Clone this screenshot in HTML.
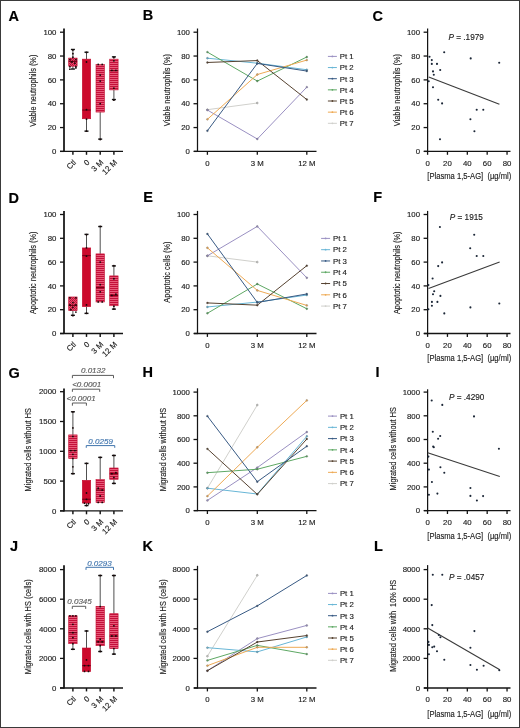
<!DOCTYPE html>
<html><head><meta charset="utf-8"><style>
html,body{margin:0;padding:0;background:#fff;}
body{width:520px;height:728px;overflow:hidden;}
svg{display:block;font-family:"Liberation Sans", sans-serif;will-change:transform;} text{stroke-width:0.15;}
</style></head><body>
<svg width="520" height="728" viewBox="0 0 520 728">
<defs>
<pattern id="stripes" patternUnits="userSpaceOnUse" width="4" height="2">
<rect width="4" height="2" fill="#e85c7a"/>
<rect width="4" height="1" fill="#c4103a"/>
</pattern>
<pattern id="checker" patternUnits="userSpaceOnUse" width="2" height="2">
<rect width="2" height="2" fill="#e4506e"/>
<rect width="1" height="1" fill="#b80c34"/>
<rect x="1" y="1" width="1" height="1" fill="#c81840"/>
</pattern>
</defs>
<rect width="520" height="728" fill="#fff"/>
<rect x="0.5" y="0.5" width="519" height="727" fill="none" stroke="#3a3a3a" stroke-width="1"/>
<text x="8.6" y="21" font-size="14.5" text-anchor="start" fill="#000" font-weight="bold" font-style="normal" stroke="#000" stroke-width="0.35">A</text>
<text x="142.7" y="20.2" font-size="14.5" text-anchor="start" fill="#000" font-weight="bold" font-style="normal" stroke="#000" stroke-width="0.35">B</text>
<text x="372.6" y="20.8" font-size="14.5" text-anchor="start" fill="#000" font-weight="bold" font-style="normal" stroke="#000" stroke-width="0.35">C</text>
<text x="8.6" y="203.2" font-size="14.5" text-anchor="start" fill="#000" font-weight="bold" font-style="normal" stroke="#000" stroke-width="0.35">D</text>
<text x="143.2" y="202.2" font-size="14.5" text-anchor="start" fill="#000" font-weight="bold" font-style="normal" stroke="#000" stroke-width="0.35">E</text>
<text x="373.2" y="202.2" font-size="14.5" text-anchor="start" fill="#000" font-weight="bold" font-style="normal" stroke="#000" stroke-width="0.35">F</text>
<text x="8.6" y="377.5" font-size="14.5" text-anchor="start" fill="#000" font-weight="bold" font-style="normal" stroke="#000" stroke-width="0.35">G</text>
<text x="142.5" y="376.8" font-size="14.5" text-anchor="start" fill="#000" font-weight="bold" font-style="normal" stroke="#000" stroke-width="0.35">H</text>
<text x="375.4" y="376.8" font-size="14.5" text-anchor="start" fill="#000" font-weight="bold" font-style="normal" stroke="#000" stroke-width="0.35">I</text>
<text x="9.9" y="551.2" font-size="14.5" text-anchor="start" fill="#000" font-weight="bold" font-style="normal" stroke="#000" stroke-width="0.35">J</text>
<text x="142.5" y="551.2" font-size="14.5" text-anchor="start" fill="#000" font-weight="bold" font-style="normal" stroke="#000" stroke-width="0.35">K</text>
<text x="374" y="551.1" font-size="14.5" text-anchor="start" fill="#000" font-weight="bold" font-style="normal" stroke="#000" stroke-width="0.35">L</text>
<line x1="64" y1="28.5" x2="64" y2="152" stroke="#141414" stroke-width="1.75" />
<line x1="60" y1="151.4" x2="64" y2="151.4" stroke="#141414" stroke-width="1.3" />
<text x="56.4" y="154.15" font-size="7.8" text-anchor="end" fill="#222222" font-weight="normal" font-style="normal" stroke="#222222" stroke-width="0.24" >0</text>
<line x1="60" y1="127.56" x2="64" y2="127.56" stroke="#141414" stroke-width="1.3" />
<text x="56.4" y="130.31" font-size="7.8" text-anchor="end" fill="#222222" font-weight="normal" font-style="normal" stroke="#222222" stroke-width="0.24" >20</text>
<line x1="60" y1="103.72" x2="64" y2="103.72" stroke="#141414" stroke-width="1.3" />
<text x="56.4" y="106.47" font-size="7.8" text-anchor="end" fill="#222222" font-weight="normal" font-style="normal" stroke="#222222" stroke-width="0.24" >40</text>
<line x1="60" y1="79.88" x2="64" y2="79.88" stroke="#141414" stroke-width="1.3" />
<text x="56.4" y="82.63" font-size="7.8" text-anchor="end" fill="#222222" font-weight="normal" font-style="normal" stroke="#222222" stroke-width="0.24" >60</text>
<line x1="60" y1="56.04" x2="64" y2="56.04" stroke="#141414" stroke-width="1.3" />
<text x="56.4" y="58.79" font-size="7.8" text-anchor="end" fill="#222222" font-weight="normal" font-style="normal" stroke="#222222" stroke-width="0.24" >80</text>
<line x1="60" y1="32.2" x2="64" y2="32.2" stroke="#141414" stroke-width="1.3" />
<text x="56.4" y="34.95" font-size="7.8" text-anchor="end" fill="#222222" font-weight="normal" font-style="normal" stroke="#222222" stroke-width="0.24" >100</text>
<line x1="60" y1="151.4" x2="123" y2="151.4" stroke="#141414" stroke-width="1.3" />
<line x1="72.9" y1="151.4" x2="72.9" y2="154.8" stroke="#141414" stroke-width="1.45" />
<line x1="86.5" y1="151.4" x2="86.5" y2="154.8" stroke="#141414" stroke-width="1.45" />
<line x1="100.2" y1="151.4" x2="100.2" y2="154.8" stroke="#141414" stroke-width="1.45" />
<line x1="113.9" y1="151.4" x2="113.9" y2="154.8" stroke="#141414" stroke-width="1.45" />
<text x="0" y="0" font-size="7.8" text-anchor="end" fill="#222222" stroke="#222222" stroke-width="0.24" transform="translate(76.5,162.9) rotate(-45)">Ctl</text>
<text x="0" y="0" font-size="7.8" text-anchor="end" fill="#222222" stroke="#222222" stroke-width="0.24" transform="translate(90.1,162.9) rotate(-45)">0</text>
<text x="0" y="0" font-size="7.8" text-anchor="end" fill="#222222" stroke="#222222" stroke-width="0.24" transform="translate(103.8,162.9) rotate(-45)">3 M</text>
<text x="0" y="0" font-size="7.8" text-anchor="end" fill="#222222" stroke="#222222" stroke-width="0.24" transform="translate(117.5,162.9) rotate(-45)">12 M</text>
<g transform="translate(32.6,90.7) rotate(-90) scale(0.78,1)"><text x="0" y="3.14" font-size="9.5" text-anchor="middle" fill="#222222" stroke="#222222" stroke-width="0.42" xml:space="preserve">Viable neutrophils (%)</text></g>
<line x1="72.9" y1="49.48" x2="72.9" y2="58.07" stroke="#505050" stroke-width="1" />
<line x1="70.9" y1="49.48" x2="74.9" y2="49.48" stroke="#111" stroke-width="1.4" />
<line x1="72.9" y1="66.17" x2="72.9" y2="69.03" stroke="#505050" stroke-width="1" />
<line x1="70.9" y1="69.03" x2="74.9" y2="69.03" stroke="#111" stroke-width="1.4" />
<rect x="68.7" y="58.07" width="8.4" height="8.11" fill="url(#checker)" stroke="#c20a2e" stroke-width="0.6"/>
<line x1="68.7" y1="61.4" x2="77.1" y2="61.4" stroke="#7a0018" stroke-width="1.2" />
<circle cx="72.9" cy="50.08" r="0.9" fill="#1a0a0a"/>
<circle cx="72.9" cy="53.66" r="0.9" fill="#1a0a0a"/>
<circle cx="72.9" cy="57.23" r="0.9" fill="#1a0a0a"/>
<circle cx="69.9" cy="59.62" r="0.9" fill="#1a0a0a"/>
<circle cx="75.9" cy="59.62" r="0.9" fill="#1a0a0a"/>
<circle cx="71.9" cy="62" r="0.9" fill="#1a0a0a"/>
<circle cx="74.9" cy="63.19" r="0.9" fill="#1a0a0a"/>
<circle cx="69.9" cy="66.77" r="0.9" fill="#1a0a0a"/>
<circle cx="75.9" cy="66.77" r="0.9" fill="#1a0a0a"/>
<circle cx="69.9" cy="69.15" r="0.9" fill="#1a0a0a"/>
<circle cx="75.9" cy="67.96" r="0.9" fill="#1a0a0a"/>
<line x1="86.5" y1="52.23" x2="86.5" y2="59.14" stroke="#505050" stroke-width="1" />
<line x1="84.5" y1="52.23" x2="88.5" y2="52.23" stroke="#111" stroke-width="1.4" />
<line x1="86.5" y1="118.74" x2="86.5" y2="131.14" stroke="#505050" stroke-width="1" />
<line x1="84.5" y1="131.14" x2="88.5" y2="131.14" stroke="#111" stroke-width="1.4" />
<rect x="82.3" y="59.14" width="8.4" height="59.6" fill="#cc0a2c" stroke="#c20a2e" stroke-width="0.6"/>
<line x1="82.3" y1="110.04" x2="90.7" y2="110.04" stroke="#7a0018" stroke-width="1.2" />
<circle cx="86.5" cy="52.46" r="0.9" fill="#1a0a0a"/>
<circle cx="86.5" cy="62" r="0.9" fill="#1a0a0a"/>
<circle cx="86.5" cy="109.68" r="0.9" fill="#1a0a0a"/>
<circle cx="86.5" cy="119.22" r="0.9" fill="#1a0a0a"/>
<circle cx="86.5" cy="131.14" r="0.9" fill="#1a0a0a"/>
<line x1="100.2" y1="112.06" x2="100.2" y2="139.12" stroke="#505050" stroke-width="1" />
<line x1="98.2" y1="139.12" x2="102.2" y2="139.12" stroke="#111" stroke-width="1.4" />
<rect x="96" y="64.62" width="8.4" height="47.44" fill="url(#stripes)" stroke="#c20a2e" stroke-width="0.6"/>
<circle cx="98.2" cy="64.38" r="0.9" fill="#1a0a0a"/>
<circle cx="102.2" cy="64.38" r="0.9" fill="#1a0a0a"/>
<circle cx="100.2" cy="75.11" r="0.9" fill="#1a0a0a"/>
<circle cx="100.2" cy="81.07" r="0.9" fill="#1a0a0a"/>
<circle cx="100.2" cy="103.72" r="0.9" fill="#1a0a0a"/>
<circle cx="100.2" cy="139.48" r="0.9" fill="#1a0a0a"/>
<line x1="113.9" y1="56.87" x2="113.9" y2="59.14" stroke="#505050" stroke-width="1" />
<line x1="111.9" y1="56.87" x2="115.9" y2="56.87" stroke="#111" stroke-width="1.4" />
<line x1="113.9" y1="89.89" x2="113.9" y2="99.55" stroke="#505050" stroke-width="1" />
<line x1="111.9" y1="99.55" x2="115.9" y2="99.55" stroke="#111" stroke-width="1.4" />
<rect x="109.7" y="59.14" width="8.4" height="30.75" fill="url(#stripes)" stroke="#c20a2e" stroke-width="0.6"/>
<line x1="109.7" y1="70.7" x2="118.1" y2="70.7" stroke="#7a0018" stroke-width="1.2" />
<circle cx="113.9" cy="57.23" r="0.9" fill="#1a0a0a"/>
<circle cx="113.9" cy="60.81" r="0.9" fill="#1a0a0a"/>
<circle cx="111.9" cy="70.34" r="0.9" fill="#1a0a0a"/>
<circle cx="115.9" cy="70.34" r="0.9" fill="#1a0a0a"/>
<circle cx="113.9" cy="88.22" r="0.9" fill="#1a0a0a"/>
<circle cx="113.9" cy="100.14" r="0.9" fill="#1a0a0a"/>
<line x1="197.5" y1="28.5" x2="197.5" y2="152" stroke="#141414" stroke-width="1.25" />
<line x1="193.5" y1="151.4" x2="197.5" y2="151.4" stroke="#141414" stroke-width="1.3" />
<text x="189.9" y="154.15" font-size="7.8" text-anchor="end" fill="#222222" font-weight="normal" font-style="normal" stroke="#222222" stroke-width="0.24" >0</text>
<line x1="193.5" y1="127.56" x2="197.5" y2="127.56" stroke="#141414" stroke-width="1.3" />
<text x="189.9" y="130.31" font-size="7.8" text-anchor="end" fill="#222222" font-weight="normal" font-style="normal" stroke="#222222" stroke-width="0.24" >20</text>
<line x1="193.5" y1="103.72" x2="197.5" y2="103.72" stroke="#141414" stroke-width="1.3" />
<text x="189.9" y="106.47" font-size="7.8" text-anchor="end" fill="#222222" font-weight="normal" font-style="normal" stroke="#222222" stroke-width="0.24" >40</text>
<line x1="193.5" y1="79.88" x2="197.5" y2="79.88" stroke="#141414" stroke-width="1.3" />
<text x="189.9" y="82.63" font-size="7.8" text-anchor="end" fill="#222222" font-weight="normal" font-style="normal" stroke="#222222" stroke-width="0.24" >60</text>
<line x1="193.5" y1="56.04" x2="197.5" y2="56.04" stroke="#141414" stroke-width="1.3" />
<text x="189.9" y="58.79" font-size="7.8" text-anchor="end" fill="#222222" font-weight="normal" font-style="normal" stroke="#222222" stroke-width="0.24" >80</text>
<line x1="193.5" y1="32.2" x2="197.5" y2="32.2" stroke="#141414" stroke-width="1.3" />
<text x="189.9" y="34.95" font-size="7.8" text-anchor="end" fill="#222222" font-weight="normal" font-style="normal" stroke="#222222" stroke-width="0.24" >100</text>
<line x1="194" y1="151.4" x2="316.5" y2="151.4" stroke="#141414" stroke-width="1.3" />
<line x1="207.4" y1="151.4" x2="207.4" y2="154.8" stroke="#141414" stroke-width="1.3" />
<line x1="257.3" y1="151.4" x2="257.3" y2="154.8" stroke="#141414" stroke-width="1.3" />
<line x1="306.8" y1="151.4" x2="306.8" y2="154.8" stroke="#141414" stroke-width="1.3" />
<text x="207.4" y="165.7" font-size="7.8" text-anchor="middle" fill="#222222" font-weight="normal" font-style="normal" stroke="#222222" stroke-width="0.24" >0</text>
<text x="257.3" y="165.7" font-size="7.8" text-anchor="middle" fill="#222222" font-weight="normal" font-style="normal" stroke="#222222" stroke-width="0.24" >3 M</text>
<text x="306.8" y="165.7" font-size="7.8" text-anchor="middle" fill="#222222" font-weight="normal" font-style="normal" stroke="#222222" stroke-width="0.24" >12 M</text>
<g transform="translate(166.8,90.1) rotate(-90) scale(0.78,1)"><text x="0" y="3.14" font-size="9.5" text-anchor="middle" fill="#222222" stroke="#222222" stroke-width="0.42" xml:space="preserve">Viable neutrophils (%)</text></g>
<path d="M207.4,109.68 L257.3,103" fill="none" stroke="#d0d0cc" stroke-width="1"/>
<circle cx="207.4" cy="109.68" r="0.95" fill="#d0d0cc" stroke="#333" stroke-width="0.25"/>
<circle cx="257.3" cy="103" r="0.95" fill="#d0d0cc" stroke="#333" stroke-width="0.25"/>
<path d="M207.4,110.04 L257.3,139 L306.8,87.15" fill="none" stroke="#9a90c2" stroke-width="1"/>
<circle cx="207.4" cy="110.04" r="0.95" fill="#9a90c2" stroke="#333" stroke-width="0.25"/>
<circle cx="257.3" cy="139" r="0.95" fill="#9a90c2" stroke="#333" stroke-width="0.25"/>
<circle cx="306.8" cy="87.15" r="0.95" fill="#9a90c2" stroke="#333" stroke-width="0.25"/>
<path d="M207.4,58.19 L257.3,63.19 L306.8,69.75" fill="none" stroke="#68b6d6" stroke-width="1"/>
<circle cx="207.4" cy="58.19" r="0.95" fill="#68b6d6" stroke="#333" stroke-width="0.25"/>
<circle cx="257.3" cy="63.19" r="0.95" fill="#68b6d6" stroke="#333" stroke-width="0.25"/>
<circle cx="306.8" cy="69.75" r="0.95" fill="#68b6d6" stroke="#333" stroke-width="0.25"/>
<path d="M207.4,52.11 L257.3,81.07 L306.8,56.99" fill="none" stroke="#5ea864" stroke-width="1"/>
<circle cx="207.4" cy="52.11" r="0.95" fill="#5ea864" stroke="#333" stroke-width="0.25"/>
<circle cx="257.3" cy="81.07" r="0.95" fill="#5ea864" stroke="#333" stroke-width="0.25"/>
<circle cx="306.8" cy="56.99" r="0.95" fill="#5ea864" stroke="#333" stroke-width="0.25"/>
<path d="M207.4,119.34 L257.3,74.52 L306.8,60.09" fill="none" stroke="#eeaa55" stroke-width="1"/>
<circle cx="207.4" cy="119.34" r="0.95" fill="#eeaa55" stroke="#333" stroke-width="0.25"/>
<circle cx="257.3" cy="74.52" r="0.95" fill="#eeaa55" stroke="#333" stroke-width="0.25"/>
<circle cx="306.8" cy="60.09" r="0.95" fill="#eeaa55" stroke="#333" stroke-width="0.25"/>
<path d="M207.4,62.48 L257.3,60.57 L306.8,99.55" fill="none" stroke="#564230" stroke-width="1"/>
<circle cx="207.4" cy="62.48" r="0.95" fill="#564230" stroke="#333" stroke-width="0.25"/>
<circle cx="257.3" cy="60.57" r="0.95" fill="#564230" stroke="#333" stroke-width="0.25"/>
<circle cx="306.8" cy="99.55" r="0.95" fill="#564230" stroke="#333" stroke-width="0.25"/>
<path d="M207.4,130.78 L257.3,63.43 L306.8,71.06" fill="none" stroke="#385a84" stroke-width="1"/>
<circle cx="207.4" cy="130.78" r="0.95" fill="#385a84" stroke="#333" stroke-width="0.25"/>
<circle cx="257.3" cy="63.43" r="0.95" fill="#385a84" stroke="#333" stroke-width="0.25"/>
<circle cx="306.8" cy="71.06" r="0.95" fill="#385a84" stroke="#333" stroke-width="0.25"/>
<line x1="327.9" y1="56.4" x2="336.9" y2="56.4" stroke="#9a90c2" stroke-width="1" />
<circle cx="332.4" cy="56.4" r="0.9" fill="#9a90c2"/>
<text x="339.8" y="59.2" font-size="7.8" text-anchor="start" fill="#222222" font-weight="normal" font-style="normal" stroke="#222222" stroke-width="0.24" >Pt 1</text>
<line x1="327.9" y1="67.55" x2="336.9" y2="67.55" stroke="#68b6d6" stroke-width="1" />
<circle cx="332.4" cy="67.55" r="0.9" fill="#68b6d6"/>
<text x="339.8" y="70.35" font-size="7.8" text-anchor="start" fill="#222222" font-weight="normal" font-style="normal" stroke="#222222" stroke-width="0.24" >Pt 2</text>
<line x1="327.9" y1="78.7" x2="336.9" y2="78.7" stroke="#385a84" stroke-width="1" />
<circle cx="332.4" cy="78.7" r="0.9" fill="#385a84"/>
<text x="339.8" y="81.5" font-size="7.8" text-anchor="start" fill="#222222" font-weight="normal" font-style="normal" stroke="#222222" stroke-width="0.24" >Pt 3</text>
<line x1="327.9" y1="89.85" x2="336.9" y2="89.85" stroke="#5ea864" stroke-width="1" />
<circle cx="332.4" cy="89.85" r="0.9" fill="#5ea864"/>
<text x="339.8" y="92.65" font-size="7.8" text-anchor="start" fill="#222222" font-weight="normal" font-style="normal" stroke="#222222" stroke-width="0.24" >Pt 4</text>
<line x1="327.9" y1="101" x2="336.9" y2="101" stroke="#564230" stroke-width="1" />
<circle cx="332.4" cy="101" r="0.9" fill="#564230"/>
<text x="339.8" y="103.8" font-size="7.8" text-anchor="start" fill="#222222" font-weight="normal" font-style="normal" stroke="#222222" stroke-width="0.24" >Pt 5</text>
<line x1="327.9" y1="112.15" x2="336.9" y2="112.15" stroke="#eeaa55" stroke-width="1" />
<circle cx="332.4" cy="112.15" r="0.9" fill="#eeaa55"/>
<text x="339.8" y="114.95" font-size="7.8" text-anchor="start" fill="#222222" font-weight="normal" font-style="normal" stroke="#222222" stroke-width="0.24" >Pt 6</text>
<line x1="327.9" y1="123.3" x2="336.9" y2="123.3" stroke="#d0d0cc" stroke-width="1" />
<circle cx="332.4" cy="123.3" r="0.9" fill="#d0d0cc"/>
<text x="339.8" y="126.1" font-size="7.8" text-anchor="start" fill="#222222" font-weight="normal" font-style="normal" stroke="#222222" stroke-width="0.24" >Pt 7</text>
<line x1="427.6" y1="28.5" x2="427.6" y2="152" stroke="#141414" stroke-width="1.25" />
<line x1="423.6" y1="151.4" x2="427.6" y2="151.4" stroke="#141414" stroke-width="1.3" />
<text x="420" y="154.15" font-size="7.8" text-anchor="end" fill="#222222" font-weight="normal" font-style="normal" stroke="#222222" stroke-width="0.24" >0</text>
<line x1="423.6" y1="127.56" x2="427.6" y2="127.56" stroke="#141414" stroke-width="1.3" />
<text x="420" y="130.31" font-size="7.8" text-anchor="end" fill="#222222" font-weight="normal" font-style="normal" stroke="#222222" stroke-width="0.24" >20</text>
<line x1="423.6" y1="103.72" x2="427.6" y2="103.72" stroke="#141414" stroke-width="1.3" />
<text x="420" y="106.47" font-size="7.8" text-anchor="end" fill="#222222" font-weight="normal" font-style="normal" stroke="#222222" stroke-width="0.24" >40</text>
<line x1="423.6" y1="79.88" x2="427.6" y2="79.88" stroke="#141414" stroke-width="1.3" />
<text x="420" y="82.63" font-size="7.8" text-anchor="end" fill="#222222" font-weight="normal" font-style="normal" stroke="#222222" stroke-width="0.24" >60</text>
<line x1="423.6" y1="56.04" x2="427.6" y2="56.04" stroke="#141414" stroke-width="1.3" />
<text x="420" y="58.79" font-size="7.8" text-anchor="end" fill="#222222" font-weight="normal" font-style="normal" stroke="#222222" stroke-width="0.24" >80</text>
<line x1="423.6" y1="32.2" x2="427.6" y2="32.2" stroke="#141414" stroke-width="1.3" />
<text x="420" y="34.95" font-size="7.8" text-anchor="end" fill="#222222" font-weight="normal" font-style="normal" stroke="#222222" stroke-width="0.24" >100</text>
<line x1="424" y1="151.4" x2="510.5" y2="151.4" stroke="#141414" stroke-width="1.3" />
<line x1="427.6" y1="151.4" x2="427.6" y2="154.8" stroke="#141414" stroke-width="1.3" />
<text x="427.6" y="165.7" font-size="7.8" text-anchor="middle" fill="#222222" font-weight="normal" font-style="normal" stroke="#222222" stroke-width="0.24" >0</text>
<line x1="447.46" y1="151.4" x2="447.46" y2="154.8" stroke="#141414" stroke-width="1.3" />
<text x="447.46" y="165.7" font-size="7.8" text-anchor="middle" fill="#222222" font-weight="normal" font-style="normal" stroke="#222222" stroke-width="0.24" >20</text>
<line x1="467.32" y1="151.4" x2="467.32" y2="154.8" stroke="#141414" stroke-width="1.3" />
<text x="467.32" y="165.7" font-size="7.8" text-anchor="middle" fill="#222222" font-weight="normal" font-style="normal" stroke="#222222" stroke-width="0.24" >40</text>
<line x1="487.18" y1="151.4" x2="487.18" y2="154.8" stroke="#141414" stroke-width="1.3" />
<text x="487.18" y="165.7" font-size="7.8" text-anchor="middle" fill="#222222" font-weight="normal" font-style="normal" stroke="#222222" stroke-width="0.24" >60</text>
<line x1="507.04" y1="151.4" x2="507.04" y2="154.8" stroke="#141414" stroke-width="1.3" />
<text x="507.04" y="165.7" font-size="7.8" text-anchor="middle" fill="#222222" font-weight="normal" font-style="normal" stroke="#222222" stroke-width="0.24" >80</text>
<g transform="translate(469.3,179.2) scale(0.82,1)"><text x="0" y="0" font-size="9.3" text-anchor="middle" fill="#222222" stroke="#222222" stroke-width="0.42" xml:space="preserve">[Plasma 1,5-AG]  (µg/ml)</text></g>
<g transform="translate(396.8,90.1) rotate(-90) scale(0.78,1)"><text x="0" y="3.14" font-size="9.5" text-anchor="middle" fill="#222222" stroke="#222222" stroke-width="0.42" xml:space="preserve">Viable neutrophils (%)</text></g>
<line x1="428.7" y1="76.9" x2="499.4" y2="104.2" stroke="#3a3a3a" stroke-width="1.1" />
<circle cx="429.5" cy="56.7" r="1.05" fill="#1b2636"/>
<circle cx="444.2" cy="52.3" r="1.05" fill="#1b2636"/>
<circle cx="431.8" cy="60.1" r="1.05" fill="#1b2636"/>
<circle cx="431.8" cy="63.9" r="1.05" fill="#1b2636"/>
<circle cx="437" cy="63.9" r="1.05" fill="#1b2636"/>
<circle cx="433" cy="71.4" r="1.05" fill="#1b2636"/>
<circle cx="433.8" cy="74.8" r="1.05" fill="#1b2636"/>
<circle cx="440.2" cy="70" r="1.05" fill="#1b2636"/>
<circle cx="428.7" cy="81.2" r="1.05" fill="#1b2636"/>
<circle cx="433" cy="87.3" r="1.05" fill="#1b2636"/>
<circle cx="438.2" cy="99.7" r="1.05" fill="#1b2636"/>
<circle cx="442.1" cy="103.4" r="1.05" fill="#1b2636"/>
<circle cx="470.7" cy="58.4" r="1.05" fill="#1b2636"/>
<circle cx="499.2" cy="62.7" r="1.05" fill="#1b2636"/>
<circle cx="476.7" cy="109.8" r="1.05" fill="#1b2636"/>
<circle cx="483.3" cy="109.8" r="1.05" fill="#1b2636"/>
<circle cx="440" cy="139.3" r="1.05" fill="#1b2636"/>
<circle cx="474.4" cy="131.2" r="1.05" fill="#1b2636"/>
<circle cx="470.4" cy="119.2" r="1.05" fill="#1b2636"/>
<text x="448.5" y="39.7" font-size="8.2" fill="#222222" stroke="#222222" stroke-width="0.24"><tspan font-style="italic">P</tspan> = .1979</text>
<line x1="64" y1="210.9" x2="64" y2="334.1" stroke="#141414" stroke-width="1.75" />
<line x1="60" y1="333.5" x2="64" y2="333.5" stroke="#141414" stroke-width="1.3" />
<text x="56.4" y="336.25" font-size="7.8" text-anchor="end" fill="#222222" font-weight="normal" font-style="normal" stroke="#222222" stroke-width="0.24" >0</text>
<line x1="60" y1="309.7" x2="64" y2="309.7" stroke="#141414" stroke-width="1.3" />
<text x="56.4" y="312.45" font-size="7.8" text-anchor="end" fill="#222222" font-weight="normal" font-style="normal" stroke="#222222" stroke-width="0.24" >20</text>
<line x1="60" y1="285.9" x2="64" y2="285.9" stroke="#141414" stroke-width="1.3" />
<text x="56.4" y="288.65" font-size="7.8" text-anchor="end" fill="#222222" font-weight="normal" font-style="normal" stroke="#222222" stroke-width="0.24" >40</text>
<line x1="60" y1="262.1" x2="64" y2="262.1" stroke="#141414" stroke-width="1.3" />
<text x="56.4" y="264.85" font-size="7.8" text-anchor="end" fill="#222222" font-weight="normal" font-style="normal" stroke="#222222" stroke-width="0.24" >60</text>
<line x1="60" y1="238.3" x2="64" y2="238.3" stroke="#141414" stroke-width="1.3" />
<text x="56.4" y="241.05" font-size="7.8" text-anchor="end" fill="#222222" font-weight="normal" font-style="normal" stroke="#222222" stroke-width="0.24" >80</text>
<line x1="60" y1="214.5" x2="64" y2="214.5" stroke="#141414" stroke-width="1.3" />
<text x="56.4" y="217.25" font-size="7.8" text-anchor="end" fill="#222222" font-weight="normal" font-style="normal" stroke="#222222" stroke-width="0.24" >100</text>
<line x1="60" y1="333.5" x2="123" y2="333.5" stroke="#141414" stroke-width="1.3" />
<line x1="72.9" y1="333.5" x2="72.9" y2="336.9" stroke="#141414" stroke-width="1.45" />
<line x1="86.5" y1="333.5" x2="86.5" y2="336.9" stroke="#141414" stroke-width="1.45" />
<line x1="100.2" y1="333.5" x2="100.2" y2="336.9" stroke="#141414" stroke-width="1.45" />
<line x1="113.9" y1="333.5" x2="113.9" y2="336.9" stroke="#141414" stroke-width="1.45" />
<text x="0" y="0" font-size="7.8" text-anchor="end" fill="#222222" stroke="#222222" stroke-width="0.24" transform="translate(76.5,345) rotate(-45)">Ctl</text>
<text x="0" y="0" font-size="7.8" text-anchor="end" fill="#222222" stroke="#222222" stroke-width="0.24" transform="translate(90.1,345) rotate(-45)">0</text>
<text x="0" y="0" font-size="7.8" text-anchor="end" fill="#222222" stroke="#222222" stroke-width="0.24" transform="translate(103.8,345) rotate(-45)">3 M</text>
<text x="0" y="0" font-size="7.8" text-anchor="end" fill="#222222" stroke="#222222" stroke-width="0.24" transform="translate(117.5,345) rotate(-45)">12 M</text>
<g transform="translate(33,272.8) rotate(-90) scale(0.78,1)"><text x="0" y="3.14" font-size="9.5" text-anchor="middle" fill="#222222" stroke="#222222" stroke-width="0.42" xml:space="preserve">Apoptotic neutrophils (%)</text></g>
<line x1="72.9" y1="310.65" x2="72.9" y2="315.29" stroke="#505050" stroke-width="1" />
<line x1="70.9" y1="315.29" x2="74.9" y2="315.29" stroke="#111" stroke-width="1.4" />
<rect x="68.7" y="296.97" width="8.4" height="13.69" fill="url(#checker)" stroke="#c20a2e" stroke-width="0.6"/>
<line x1="68.7" y1="305.42" x2="77.1" y2="305.42" stroke="#7a0018" stroke-width="1.2" />
<circle cx="69.9" cy="297.8" r="0.9" fill="#1a0a0a"/>
<circle cx="75.9" cy="297.8" r="0.9" fill="#1a0a0a"/>
<circle cx="72.9" cy="302.56" r="0.9" fill="#1a0a0a"/>
<circle cx="69.9" cy="304.94" r="0.9" fill="#1a0a0a"/>
<circle cx="75.9" cy="304.94" r="0.9" fill="#1a0a0a"/>
<circle cx="72.9" cy="307.32" r="0.9" fill="#1a0a0a"/>
<circle cx="70.9" cy="309.7" r="0.9" fill="#1a0a0a"/>
<circle cx="75.9" cy="312.08" r="0.9" fill="#1a0a0a"/>
<circle cx="72.9" cy="315.65" r="0.9" fill="#1a0a0a"/>
<line x1="86.5" y1="234.37" x2="86.5" y2="247.94" stroke="#505050" stroke-width="1" />
<line x1="84.5" y1="234.37" x2="88.5" y2="234.37" stroke="#111" stroke-width="1.4" />
<line x1="86.5" y1="306.61" x2="86.5" y2="313.39" stroke="#505050" stroke-width="1" />
<line x1="84.5" y1="313.39" x2="88.5" y2="313.39" stroke="#111" stroke-width="1.4" />
<rect x="82.3" y="247.94" width="8.4" height="58.67" fill="#cc0a2c" stroke="#c20a2e" stroke-width="0.6"/>
<line x1="82.3" y1="255.56" x2="90.7" y2="255.56" stroke="#7a0018" stroke-width="1.2" />
<circle cx="86.5" cy="234.73" r="0.9" fill="#1a0a0a"/>
<circle cx="86.5" cy="247.82" r="0.9" fill="#1a0a0a"/>
<circle cx="86.5" cy="256.15" r="0.9" fill="#1a0a0a"/>
<circle cx="86.5" cy="304.94" r="0.9" fill="#1a0a0a"/>
<circle cx="86.5" cy="313.27" r="0.9" fill="#1a0a0a"/>
<line x1="100.2" y1="226.52" x2="100.2" y2="253.89" stroke="#505050" stroke-width="1" />
<line x1="98.2" y1="226.52" x2="102.2" y2="226.52" stroke="#111" stroke-width="1.4" />
<rect x="96" y="253.89" width="8.4" height="48.08" fill="url(#stripes)" stroke="#c20a2e" stroke-width="0.6"/>
<line x1="96" y1="287.57" x2="104.4" y2="287.57" stroke="#7a0018" stroke-width="1.2" />
<circle cx="100.2" cy="226.4" r="0.9" fill="#1a0a0a"/>
<circle cx="100.2" cy="262.1" r="0.9" fill="#1a0a0a"/>
<circle cx="100.2" cy="284.71" r="0.9" fill="#1a0a0a"/>
<circle cx="100.2" cy="291.85" r="0.9" fill="#1a0a0a"/>
<circle cx="98.2" cy="301.96" r="0.9" fill="#1a0a0a"/>
<circle cx="102.2" cy="301.96" r="0.9" fill="#1a0a0a"/>
<line x1="113.9" y1="265.91" x2="113.9" y2="275.9" stroke="#505050" stroke-width="1" />
<line x1="111.9" y1="265.91" x2="115.9" y2="265.91" stroke="#111" stroke-width="1.4" />
<line x1="113.9" y1="305.77" x2="113.9" y2="309.11" stroke="#505050" stroke-width="1" />
<line x1="111.9" y1="309.11" x2="115.9" y2="309.11" stroke="#111" stroke-width="1.4" />
<rect x="109.7" y="275.9" width="8.4" height="29.87" fill="url(#stripes)" stroke="#c20a2e" stroke-width="0.6"/>
<line x1="109.7" y1="295.42" x2="118.1" y2="295.42" stroke="#7a0018" stroke-width="1.2" />
<circle cx="113.9" cy="265.67" r="0.9" fill="#1a0a0a"/>
<circle cx="113.9" cy="278.76" r="0.9" fill="#1a0a0a"/>
<circle cx="111.9" cy="295.42" r="0.9" fill="#1a0a0a"/>
<circle cx="115.9" cy="294.23" r="0.9" fill="#1a0a0a"/>
<circle cx="113.9" cy="306.13" r="0.9" fill="#1a0a0a"/>
<circle cx="113.9" cy="309.11" r="0.9" fill="#1a0a0a"/>
<line x1="197.5" y1="210.9" x2="197.5" y2="334.1" stroke="#141414" stroke-width="1.25" />
<line x1="193.5" y1="333.5" x2="197.5" y2="333.5" stroke="#141414" stroke-width="1.3" />
<text x="189.9" y="336.25" font-size="7.8" text-anchor="end" fill="#222222" font-weight="normal" font-style="normal" stroke="#222222" stroke-width="0.24" >0</text>
<line x1="193.5" y1="309.7" x2="197.5" y2="309.7" stroke="#141414" stroke-width="1.3" />
<text x="189.9" y="312.45" font-size="7.8" text-anchor="end" fill="#222222" font-weight="normal" font-style="normal" stroke="#222222" stroke-width="0.24" >20</text>
<line x1="193.5" y1="285.9" x2="197.5" y2="285.9" stroke="#141414" stroke-width="1.3" />
<text x="189.9" y="288.65" font-size="7.8" text-anchor="end" fill="#222222" font-weight="normal" font-style="normal" stroke="#222222" stroke-width="0.24" >40</text>
<line x1="193.5" y1="262.1" x2="197.5" y2="262.1" stroke="#141414" stroke-width="1.3" />
<text x="189.9" y="264.85" font-size="7.8" text-anchor="end" fill="#222222" font-weight="normal" font-style="normal" stroke="#222222" stroke-width="0.24" >60</text>
<line x1="193.5" y1="238.3" x2="197.5" y2="238.3" stroke="#141414" stroke-width="1.3" />
<text x="189.9" y="241.05" font-size="7.8" text-anchor="end" fill="#222222" font-weight="normal" font-style="normal" stroke="#222222" stroke-width="0.24" >80</text>
<line x1="193.5" y1="214.5" x2="197.5" y2="214.5" stroke="#141414" stroke-width="1.3" />
<text x="189.9" y="217.25" font-size="7.8" text-anchor="end" fill="#222222" font-weight="normal" font-style="normal" stroke="#222222" stroke-width="0.24" >100</text>
<line x1="194" y1="333.5" x2="316.5" y2="333.5" stroke="#141414" stroke-width="1.3" />
<line x1="207.4" y1="333.5" x2="207.4" y2="336.9" stroke="#141414" stroke-width="1.3" />
<line x1="257.3" y1="333.5" x2="257.3" y2="336.9" stroke="#141414" stroke-width="1.3" />
<line x1="306.8" y1="333.5" x2="306.8" y2="336.9" stroke="#141414" stroke-width="1.3" />
<text x="207.4" y="347.8" font-size="7.8" text-anchor="middle" fill="#222222" font-weight="normal" font-style="normal" stroke="#222222" stroke-width="0.24" >0</text>
<text x="257.3" y="347.8" font-size="7.8" text-anchor="middle" fill="#222222" font-weight="normal" font-style="normal" stroke="#222222" stroke-width="0.24" >3 M</text>
<text x="306.8" y="347.8" font-size="7.8" text-anchor="middle" fill="#222222" font-weight="normal" font-style="normal" stroke="#222222" stroke-width="0.24" >12 M</text>
<g transform="translate(166.9,272.2) rotate(-90) scale(0.78,1)"><text x="0" y="3.14" font-size="9.5" text-anchor="middle" fill="#222222" stroke="#222222" stroke-width="0.42" xml:space="preserve">Apoptotic cells (%)</text></g>
<path d="M207.4,255.79 L257.3,262.1" fill="none" stroke="#d0d0cc" stroke-width="1"/>
<circle cx="207.4" cy="255.79" r="0.95" fill="#d0d0cc" stroke="#333" stroke-width="0.25"/>
<circle cx="257.3" cy="262.1" r="0.95" fill="#d0d0cc" stroke="#333" stroke-width="0.25"/>
<path d="M207.4,255.79 L257.3,226.4 L306.8,277.81" fill="none" stroke="#9a90c2" stroke-width="1"/>
<circle cx="207.4" cy="255.79" r="0.95" fill="#9a90c2" stroke="#333" stroke-width="0.25"/>
<circle cx="257.3" cy="226.4" r="0.95" fill="#9a90c2" stroke="#333" stroke-width="0.25"/>
<circle cx="306.8" cy="277.81" r="0.95" fill="#9a90c2" stroke="#333" stroke-width="0.25"/>
<path d="M207.4,306.96 L257.3,302.08 L306.8,295.06" fill="none" stroke="#68b6d6" stroke-width="1"/>
<circle cx="207.4" cy="306.96" r="0.95" fill="#68b6d6" stroke="#333" stroke-width="0.25"/>
<circle cx="257.3" cy="302.08" r="0.95" fill="#68b6d6" stroke="#333" stroke-width="0.25"/>
<circle cx="306.8" cy="295.06" r="0.95" fill="#68b6d6" stroke="#333" stroke-width="0.25"/>
<path d="M207.4,313.27 L257.3,284 L306.8,308.75" fill="none" stroke="#5ea864" stroke-width="1"/>
<circle cx="207.4" cy="313.27" r="0.95" fill="#5ea864" stroke="#333" stroke-width="0.25"/>
<circle cx="257.3" cy="284" r="0.95" fill="#5ea864" stroke="#333" stroke-width="0.25"/>
<circle cx="306.8" cy="308.75" r="0.95" fill="#5ea864" stroke="#333" stroke-width="0.25"/>
<path d="M207.4,247.82 L257.3,290.42 L306.8,305.42" fill="none" stroke="#eeaa55" stroke-width="1"/>
<circle cx="207.4" cy="247.82" r="0.95" fill="#eeaa55" stroke="#333" stroke-width="0.25"/>
<circle cx="257.3" cy="290.42" r="0.95" fill="#eeaa55" stroke="#333" stroke-width="0.25"/>
<circle cx="306.8" cy="305.42" r="0.95" fill="#eeaa55" stroke="#333" stroke-width="0.25"/>
<path d="M207.4,302.92 L257.3,305.18 L306.8,265.67" fill="none" stroke="#564230" stroke-width="1"/>
<circle cx="207.4" cy="302.92" r="0.95" fill="#564230" stroke="#333" stroke-width="0.25"/>
<circle cx="257.3" cy="305.18" r="0.95" fill="#564230" stroke="#333" stroke-width="0.25"/>
<circle cx="306.8" cy="265.67" r="0.95" fill="#564230" stroke="#333" stroke-width="0.25"/>
<path d="M207.4,233.9 L257.3,302.44 L306.8,293.99" fill="none" stroke="#385a84" stroke-width="1"/>
<circle cx="207.4" cy="233.9" r="0.95" fill="#385a84" stroke="#333" stroke-width="0.25"/>
<circle cx="257.3" cy="302.44" r="0.95" fill="#385a84" stroke="#333" stroke-width="0.25"/>
<circle cx="306.8" cy="293.99" r="0.95" fill="#385a84" stroke="#333" stroke-width="0.25"/>
<line x1="321.1" y1="238.4" x2="330.1" y2="238.4" stroke="#9a90c2" stroke-width="1" />
<circle cx="325.6" cy="238.4" r="0.9" fill="#9a90c2"/>
<text x="333" y="241.2" font-size="7.8" text-anchor="start" fill="#222222" font-weight="normal" font-style="normal" stroke="#222222" stroke-width="0.24" >Pt 1</text>
<line x1="321.1" y1="249.68" x2="330.1" y2="249.68" stroke="#68b6d6" stroke-width="1" />
<circle cx="325.6" cy="249.68" r="0.9" fill="#68b6d6"/>
<text x="333" y="252.48" font-size="7.8" text-anchor="start" fill="#222222" font-weight="normal" font-style="normal" stroke="#222222" stroke-width="0.24" >Pt 2</text>
<line x1="321.1" y1="260.96" x2="330.1" y2="260.96" stroke="#385a84" stroke-width="1" />
<circle cx="325.6" cy="260.96" r="0.9" fill="#385a84"/>
<text x="333" y="263.76" font-size="7.8" text-anchor="start" fill="#222222" font-weight="normal" font-style="normal" stroke="#222222" stroke-width="0.24" >Pt 3</text>
<line x1="321.1" y1="272.24" x2="330.1" y2="272.24" stroke="#5ea864" stroke-width="1" />
<circle cx="325.6" cy="272.24" r="0.9" fill="#5ea864"/>
<text x="333" y="275.04" font-size="7.8" text-anchor="start" fill="#222222" font-weight="normal" font-style="normal" stroke="#222222" stroke-width="0.24" >Pt 4</text>
<line x1="321.1" y1="283.52" x2="330.1" y2="283.52" stroke="#564230" stroke-width="1" />
<circle cx="325.6" cy="283.52" r="0.9" fill="#564230"/>
<text x="333" y="286.32" font-size="7.8" text-anchor="start" fill="#222222" font-weight="normal" font-style="normal" stroke="#222222" stroke-width="0.24" >Pt 5</text>
<line x1="321.1" y1="294.8" x2="330.1" y2="294.8" stroke="#eeaa55" stroke-width="1" />
<circle cx="325.6" cy="294.8" r="0.9" fill="#eeaa55"/>
<text x="333" y="297.6" font-size="7.8" text-anchor="start" fill="#222222" font-weight="normal" font-style="normal" stroke="#222222" stroke-width="0.24" >Pt 6</text>
<line x1="321.1" y1="306.08" x2="330.1" y2="306.08" stroke="#d0d0cc" stroke-width="1" />
<circle cx="325.6" cy="306.08" r="0.9" fill="#d0d0cc"/>
<text x="333" y="308.88" font-size="7.8" text-anchor="start" fill="#222222" font-weight="normal" font-style="normal" stroke="#222222" stroke-width="0.24" >Pt 7</text>
<line x1="427.6" y1="210.9" x2="427.6" y2="334.1" stroke="#141414" stroke-width="1.25" />
<line x1="423.6" y1="333.5" x2="427.6" y2="333.5" stroke="#141414" stroke-width="1.3" />
<text x="420" y="336.25" font-size="7.8" text-anchor="end" fill="#222222" font-weight="normal" font-style="normal" stroke="#222222" stroke-width="0.24" >0</text>
<line x1="423.6" y1="309.7" x2="427.6" y2="309.7" stroke="#141414" stroke-width="1.3" />
<text x="420" y="312.45" font-size="7.8" text-anchor="end" fill="#222222" font-weight="normal" font-style="normal" stroke="#222222" stroke-width="0.24" >20</text>
<line x1="423.6" y1="285.9" x2="427.6" y2="285.9" stroke="#141414" stroke-width="1.3" />
<text x="420" y="288.65" font-size="7.8" text-anchor="end" fill="#222222" font-weight="normal" font-style="normal" stroke="#222222" stroke-width="0.24" >40</text>
<line x1="423.6" y1="262.1" x2="427.6" y2="262.1" stroke="#141414" stroke-width="1.3" />
<text x="420" y="264.85" font-size="7.8" text-anchor="end" fill="#222222" font-weight="normal" font-style="normal" stroke="#222222" stroke-width="0.24" >60</text>
<line x1="423.6" y1="238.3" x2="427.6" y2="238.3" stroke="#141414" stroke-width="1.3" />
<text x="420" y="241.05" font-size="7.8" text-anchor="end" fill="#222222" font-weight="normal" font-style="normal" stroke="#222222" stroke-width="0.24" >80</text>
<line x1="423.6" y1="214.5" x2="427.6" y2="214.5" stroke="#141414" stroke-width="1.3" />
<text x="420" y="217.25" font-size="7.8" text-anchor="end" fill="#222222" font-weight="normal" font-style="normal" stroke="#222222" stroke-width="0.24" >100</text>
<line x1="424" y1="333.5" x2="510.5" y2="333.5" stroke="#141414" stroke-width="1.3" />
<line x1="427.6" y1="333.5" x2="427.6" y2="336.9" stroke="#141414" stroke-width="1.3" />
<text x="427.6" y="347.8" font-size="7.8" text-anchor="middle" fill="#222222" font-weight="normal" font-style="normal" stroke="#222222" stroke-width="0.24" >0</text>
<line x1="447.46" y1="333.5" x2="447.46" y2="336.9" stroke="#141414" stroke-width="1.3" />
<text x="447.46" y="347.8" font-size="7.8" text-anchor="middle" fill="#222222" font-weight="normal" font-style="normal" stroke="#222222" stroke-width="0.24" >20</text>
<line x1="467.32" y1="333.5" x2="467.32" y2="336.9" stroke="#141414" stroke-width="1.3" />
<text x="467.32" y="347.8" font-size="7.8" text-anchor="middle" fill="#222222" font-weight="normal" font-style="normal" stroke="#222222" stroke-width="0.24" >40</text>
<line x1="487.18" y1="333.5" x2="487.18" y2="336.9" stroke="#141414" stroke-width="1.3" />
<text x="487.18" y="347.8" font-size="7.8" text-anchor="middle" fill="#222222" font-weight="normal" font-style="normal" stroke="#222222" stroke-width="0.24" >60</text>
<line x1="507.04" y1="333.5" x2="507.04" y2="336.9" stroke="#141414" stroke-width="1.3" />
<text x="507.04" y="347.8" font-size="7.8" text-anchor="middle" fill="#222222" font-weight="normal" font-style="normal" stroke="#222222" stroke-width="0.24" >80</text>
<g transform="translate(469.3,361.4) scale(0.82,1)"><text x="0" y="0" font-size="9.3" text-anchor="middle" fill="#222222" stroke="#222222" stroke-width="0.42" xml:space="preserve">[Plasma 1,5-AG]  (µg/ml)</text></g>
<g transform="translate(396.8,272.8) rotate(-90) scale(0.78,1)"><text x="0" y="3.14" font-size="9.5" text-anchor="middle" fill="#222222" stroke="#222222" stroke-width="0.42" xml:space="preserve">Apoptotic neutrophils (%)</text></g>
<line x1="428.5" y1="288.6" x2="499.6" y2="262.1" stroke="#3a3a3a" stroke-width="1.1" />
<circle cx="439.9" cy="227" r="1.05" fill="#1b2636"/>
<circle cx="474.2" cy="234.8" r="1.05" fill="#1b2636"/>
<circle cx="470.2" cy="248.3" r="1.05" fill="#1b2636"/>
<circle cx="476.7" cy="256" r="1.05" fill="#1b2636"/>
<circle cx="483.3" cy="256" r="1.05" fill="#1b2636"/>
<circle cx="442.1" cy="262.4" r="1.05" fill="#1b2636"/>
<circle cx="438.2" cy="266.1" r="1.05" fill="#1b2636"/>
<circle cx="432.6" cy="278.5" r="1.05" fill="#1b2636"/>
<circle cx="428.4" cy="285" r="1.05" fill="#1b2636"/>
<circle cx="434.2" cy="291.2" r="1.05" fill="#1b2636"/>
<circle cx="433" cy="294.2" r="1.05" fill="#1b2636"/>
<circle cx="440.4" cy="295.9" r="1.05" fill="#1b2636"/>
<circle cx="431.9" cy="301.9" r="1.05" fill="#1b2636"/>
<circle cx="437.4" cy="301.9" r="1.05" fill="#1b2636"/>
<circle cx="431.9" cy="305.8" r="1.05" fill="#1b2636"/>
<circle cx="428.4" cy="309.3" r="1.05" fill="#1b2636"/>
<circle cx="444.3" cy="313.4" r="1.05" fill="#1b2636"/>
<circle cx="470.4" cy="307.4" r="1.05" fill="#1b2636"/>
<circle cx="499.3" cy="303.5" r="1.05" fill="#1b2636"/>
<text x="449.8" y="219.7" font-size="8.2" fill="#222222" stroke="#222222" stroke-width="0.24"><tspan font-style="italic">P</tspan> = 1915</text>
<line x1="64" y1="388.4" x2="64" y2="511.5" stroke="#141414" stroke-width="1.75" />
<line x1="60" y1="510.9" x2="64" y2="510.9" stroke="#141414" stroke-width="1.3" />
<text x="56.4" y="513.65" font-size="7.8" text-anchor="end" fill="#222222" font-weight="normal" font-style="normal" stroke="#222222" stroke-width="0.24" >0</text>
<line x1="60" y1="481.1" x2="64" y2="481.1" stroke="#141414" stroke-width="1.3" />
<text x="56.4" y="483.85" font-size="7.8" text-anchor="end" fill="#222222" font-weight="normal" font-style="normal" stroke="#222222" stroke-width="0.24" >500</text>
<line x1="60" y1="451.3" x2="64" y2="451.3" stroke="#141414" stroke-width="1.3" />
<text x="56.4" y="454.05" font-size="7.8" text-anchor="end" fill="#222222" font-weight="normal" font-style="normal" stroke="#222222" stroke-width="0.24" >1000</text>
<line x1="60" y1="421.5" x2="64" y2="421.5" stroke="#141414" stroke-width="1.3" />
<text x="56.4" y="424.25" font-size="7.8" text-anchor="end" fill="#222222" font-weight="normal" font-style="normal" stroke="#222222" stroke-width="0.24" >1500</text>
<line x1="60" y1="391.7" x2="64" y2="391.7" stroke="#141414" stroke-width="1.3" />
<text x="56.4" y="394.45" font-size="7.8" text-anchor="end" fill="#222222" font-weight="normal" font-style="normal" stroke="#222222" stroke-width="0.24" >2000</text>
<line x1="60" y1="510.9" x2="123" y2="510.9" stroke="#141414" stroke-width="1.3" />
<line x1="72.9" y1="510.9" x2="72.9" y2="514.3" stroke="#141414" stroke-width="1.45" />
<line x1="86.5" y1="510.9" x2="86.5" y2="514.3" stroke="#141414" stroke-width="1.45" />
<line x1="100.2" y1="510.9" x2="100.2" y2="514.3" stroke="#141414" stroke-width="1.45" />
<line x1="113.9" y1="510.9" x2="113.9" y2="514.3" stroke="#141414" stroke-width="1.45" />
<text x="0" y="0" font-size="7.8" text-anchor="end" fill="#222222" stroke="#222222" stroke-width="0.24" transform="translate(76.5,522.4) rotate(-45)">Ctl</text>
<text x="0" y="0" font-size="7.8" text-anchor="end" fill="#222222" stroke="#222222" stroke-width="0.24" transform="translate(90.1,522.4) rotate(-45)">0</text>
<text x="0" y="0" font-size="7.8" text-anchor="end" fill="#222222" stroke="#222222" stroke-width="0.24" transform="translate(103.8,522.4) rotate(-45)">3 M</text>
<text x="0" y="0" font-size="7.8" text-anchor="end" fill="#222222" stroke="#222222" stroke-width="0.24" transform="translate(117.5,522.4) rotate(-45)">12 M</text>
<g transform="translate(28.2,449.7) rotate(-90) scale(0.78,1)"><text x="0" y="3.14" font-size="9.5" text-anchor="middle" fill="#222222" stroke="#222222" stroke-width="0.42" xml:space="preserve">Migrated cells without HS</text></g>
<line x1="72.9" y1="411.79" x2="72.9" y2="434.91" stroke="#505050" stroke-width="1" />
<line x1="70.9" y1="411.79" x2="74.9" y2="411.79" stroke="#111" stroke-width="1.4" />
<line x1="72.9" y1="458.45" x2="72.9" y2="473.65" stroke="#505050" stroke-width="1" />
<line x1="70.9" y1="473.65" x2="74.9" y2="473.65" stroke="#111" stroke-width="1.4" />
<rect x="68.7" y="434.91" width="8.4" height="23.54" fill="url(#stripes)" stroke="#c20a2e" stroke-width="0.6"/>
<line x1="68.7" y1="450.53" x2="77.1" y2="450.53" stroke="#7a0018" stroke-width="1.2" />
<circle cx="72.9" cy="411.79" r="0.9" fill="#1a0a0a"/>
<circle cx="72.9" cy="427.94" r="0.9" fill="#1a0a0a"/>
<circle cx="72.9" cy="436.4" r="0.9" fill="#1a0a0a"/>
<circle cx="70.9" cy="450.53" r="0.9" fill="#1a0a0a"/>
<circle cx="74.9" cy="450.53" r="0.9" fill="#1a0a0a"/>
<circle cx="72.9" cy="454.28" r="0.9" fill="#1a0a0a"/>
<circle cx="72.9" cy="458.45" r="0.9" fill="#1a0a0a"/>
<circle cx="72.9" cy="466.8" r="0.9" fill="#1a0a0a"/>
<circle cx="72.9" cy="473.65" r="0.9" fill="#1a0a0a"/>
<line x1="86.5" y1="463.4" x2="86.5" y2="480.33" stroke="#505050" stroke-width="1" />
<line x1="84.5" y1="463.4" x2="88.5" y2="463.4" stroke="#111" stroke-width="1.4" />
<line x1="86.5" y1="503.03" x2="86.5" y2="505.54" stroke="#505050" stroke-width="1" />
<line x1="84.5" y1="505.54" x2="88.5" y2="505.54" stroke="#111" stroke-width="1.4" />
<rect x="82.3" y="480.33" width="8.4" height="22.71" fill="#cc0a2c" stroke="#c20a2e" stroke-width="0.6"/>
<line x1="82.3" y1="499.28" x2="90.7" y2="499.28" stroke="#7a0018" stroke-width="1.2" />
<circle cx="86.5" cy="463.4" r="0.9" fill="#1a0a0a"/>
<circle cx="86.5" cy="493.02" r="0.9" fill="#1a0a0a"/>
<circle cx="86.5" cy="499.28" r="0.9" fill="#1a0a0a"/>
<circle cx="84.5" cy="503.15" r="0.9" fill="#1a0a0a"/>
<circle cx="88.5" cy="503.75" r="0.9" fill="#1a0a0a"/>
<circle cx="86.5" cy="505.54" r="0.9" fill="#1a0a0a"/>
<line x1="100.2" y1="457.38" x2="100.2" y2="479.67" stroke="#505050" stroke-width="1" />
<line x1="98.2" y1="457.38" x2="102.2" y2="457.38" stroke="#111" stroke-width="1.4" />
<rect x="96" y="479.67" width="8.4" height="22.77" fill="url(#stripes)" stroke="#c20a2e" stroke-width="0.6"/>
<line x1="96" y1="490.04" x2="104.4" y2="490.04" stroke="#7a0018" stroke-width="1.2" />
<circle cx="100.2" cy="457.38" r="0.9" fill="#1a0a0a"/>
<circle cx="98.2" cy="488.25" r="0.9" fill="#1a0a0a"/>
<circle cx="102.2" cy="490.04" r="0.9" fill="#1a0a0a"/>
<circle cx="100.2" cy="496" r="0.9" fill="#1a0a0a"/>
<circle cx="98.2" cy="502.44" r="0.9" fill="#1a0a0a"/>
<circle cx="102.2" cy="502.44" r="0.9" fill="#1a0a0a"/>
<line x1="113.9" y1="455.47" x2="113.9" y2="467.99" stroke="#505050" stroke-width="1" />
<line x1="111.9" y1="455.47" x2="115.9" y2="455.47" stroke="#111" stroke-width="1.4" />
<line x1="113.9" y1="479.31" x2="113.9" y2="483.42" stroke="#505050" stroke-width="1" />
<line x1="111.9" y1="483.42" x2="115.9" y2="483.42" stroke="#111" stroke-width="1.4" />
<rect x="109.7" y="467.99" width="8.4" height="11.32" fill="url(#stripes)" stroke="#c20a2e" stroke-width="0.6"/>
<line x1="109.7" y1="473.65" x2="118.1" y2="473.65" stroke="#7a0018" stroke-width="1.2" />
<circle cx="113.9" cy="455.47" r="0.9" fill="#1a0a0a"/>
<circle cx="111.9" cy="473.65" r="0.9" fill="#1a0a0a"/>
<circle cx="115.9" cy="472.76" r="0.9" fill="#1a0a0a"/>
<circle cx="113.9" cy="477.52" r="0.9" fill="#1a0a0a"/>
<circle cx="113.9" cy="483.42" r="0.9" fill="#1a0a0a"/>
<path d="M72.4,378.2 V375.4 H113.5 V378.2" fill="none" stroke="#5a5a5a" stroke-width="1"/>
<text x="93.2" y="373.4" font-size="8.0" text-anchor="middle" fill="#5a5a5a" font-weight="normal" font-style="italic" stroke="#5a5a5a" stroke-width="0.24" >0.0132</text>
<path d="M72.4,391.8 V389.2 H99.7 V391.8" fill="none" stroke="#5a5a5a" stroke-width="1"/>
<text x="86.7" y="387.2" font-size="8.0" text-anchor="middle" fill="#5a5a5a" font-weight="normal" font-style="italic" stroke="#5a5a5a" stroke-width="0.24" >&lt;0.0001</text>
<path d="M72.4,405.7 V403 H86.4 V405.7" fill="none" stroke="#5a5a5a" stroke-width="1"/>
<text x="81.1" y="401.1" font-size="8.0" text-anchor="middle" fill="#5a5a5a" font-weight="normal" font-style="italic" stroke="#5a5a5a" stroke-width="0.24" >&lt;0.0001</text>
<path d="M86.25,447.8 V445.6 H114.75 V447.8" fill="none" stroke="#3f74ad" stroke-width="1"/>
<text x="100.6" y="443.5" font-size="8.0" text-anchor="middle" fill="#3f74ad" font-weight="normal" font-style="italic" stroke="#3f74ad" stroke-width="0.24" >0.0259</text>
<line x1="197.5" y1="388.3" x2="197.5" y2="511.2" stroke="#141414" stroke-width="1.25" />
<line x1="193.5" y1="510.6" x2="197.5" y2="510.6" stroke="#141414" stroke-width="1.3" />
<text x="189.9" y="513.35" font-size="7.8" text-anchor="end" fill="#222222" font-weight="normal" font-style="normal" stroke="#222222" stroke-width="0.24" >0</text>
<line x1="193.5" y1="486.9" x2="197.5" y2="486.9" stroke="#141414" stroke-width="1.3" />
<text x="189.9" y="489.65" font-size="7.8" text-anchor="end" fill="#222222" font-weight="normal" font-style="normal" stroke="#222222" stroke-width="0.24" >200</text>
<line x1="193.5" y1="463.2" x2="197.5" y2="463.2" stroke="#141414" stroke-width="1.3" />
<text x="189.9" y="465.95" font-size="7.8" text-anchor="end" fill="#222222" font-weight="normal" font-style="normal" stroke="#222222" stroke-width="0.24" >400</text>
<line x1="193.5" y1="439.5" x2="197.5" y2="439.5" stroke="#141414" stroke-width="1.3" />
<text x="189.9" y="442.25" font-size="7.8" text-anchor="end" fill="#222222" font-weight="normal" font-style="normal" stroke="#222222" stroke-width="0.24" >600</text>
<line x1="193.5" y1="415.8" x2="197.5" y2="415.8" stroke="#141414" stroke-width="1.3" />
<text x="189.9" y="418.55" font-size="7.8" text-anchor="end" fill="#222222" font-weight="normal" font-style="normal" stroke="#222222" stroke-width="0.24" >800</text>
<line x1="193.5" y1="392.1" x2="197.5" y2="392.1" stroke="#141414" stroke-width="1.3" />
<text x="189.9" y="394.85" font-size="7.8" text-anchor="end" fill="#222222" font-weight="normal" font-style="normal" stroke="#222222" stroke-width="0.24" >1000</text>
<line x1="194" y1="510.6" x2="316.5" y2="510.6" stroke="#141414" stroke-width="1.3" />
<line x1="207.4" y1="510.6" x2="207.4" y2="514" stroke="#141414" stroke-width="1.3" />
<line x1="257.3" y1="510.6" x2="257.3" y2="514" stroke="#141414" stroke-width="1.3" />
<line x1="306.8" y1="510.6" x2="306.8" y2="514" stroke="#141414" stroke-width="1.3" />
<text x="207.4" y="524.9" font-size="7.8" text-anchor="middle" fill="#222222" font-weight="normal" font-style="normal" stroke="#222222" stroke-width="0.24" >0</text>
<text x="257.3" y="524.9" font-size="7.8" text-anchor="middle" fill="#222222" font-weight="normal" font-style="normal" stroke="#222222" stroke-width="0.24" >3 M</text>
<text x="306.8" y="524.9" font-size="7.8" text-anchor="middle" fill="#222222" font-weight="normal" font-style="normal" stroke="#222222" stroke-width="0.24" >12 M</text>
<g transform="translate(162.7,449.5) rotate(-90) scale(0.78,1)"><text x="0" y="3.14" font-size="9.5" text-anchor="middle" fill="#222222" stroke="#222222" stroke-width="0.42" xml:space="preserve">Migrated cells without HS</text></g>
<path d="M207.4,488.2 L257.3,405.02" fill="none" stroke="#d0d0cc" stroke-width="1"/>
<circle cx="207.4" cy="488.2" r="0.95" fill="#d0d0cc" stroke="#333" stroke-width="0.25"/>
<circle cx="257.3" cy="405.02" r="0.95" fill="#d0d0cc" stroke="#333" stroke-width="0.25"/>
<path d="M207.4,500.41 L257.3,467.58 L306.8,432.03" fill="none" stroke="#9a90c2" stroke-width="1"/>
<circle cx="207.4" cy="500.41" r="0.95" fill="#9a90c2" stroke="#333" stroke-width="0.25"/>
<circle cx="257.3" cy="467.58" r="0.95" fill="#9a90c2" stroke="#333" stroke-width="0.25"/>
<circle cx="306.8" cy="432.03" r="0.95" fill="#9a90c2" stroke="#333" stroke-width="0.25"/>
<path d="M207.4,488.2 L257.3,494.01 L306.8,436.3" fill="none" stroke="#68b6d6" stroke-width="1"/>
<circle cx="207.4" cy="488.2" r="0.95" fill="#68b6d6" stroke="#333" stroke-width="0.25"/>
<circle cx="257.3" cy="494.01" r="0.95" fill="#68b6d6" stroke="#333" stroke-width="0.25"/>
<circle cx="306.8" cy="436.3" r="0.95" fill="#68b6d6" stroke="#333" stroke-width="0.25"/>
<path d="M207.4,472.68 L257.3,469.24 L306.8,456.33" fill="none" stroke="#5ea864" stroke-width="1"/>
<circle cx="207.4" cy="472.68" r="0.95" fill="#5ea864" stroke="#333" stroke-width="0.25"/>
<circle cx="257.3" cy="469.24" r="0.95" fill="#5ea864" stroke="#333" stroke-width="0.25"/>
<circle cx="306.8" cy="456.33" r="0.95" fill="#5ea864" stroke="#333" stroke-width="0.25"/>
<path d="M207.4,496.14 L257.3,447.32 L306.8,400.4" fill="none" stroke="#eeaa55" stroke-width="1"/>
<circle cx="207.4" cy="496.14" r="0.95" fill="#eeaa55" stroke="#333" stroke-width="0.25"/>
<circle cx="257.3" cy="447.32" r="0.95" fill="#eeaa55" stroke="#333" stroke-width="0.25"/>
<circle cx="306.8" cy="400.4" r="0.95" fill="#eeaa55" stroke="#333" stroke-width="0.25"/>
<path d="M207.4,448.86 L257.3,494.37 L306.8,439.03" fill="none" stroke="#564230" stroke-width="1"/>
<circle cx="207.4" cy="448.86" r="0.95" fill="#564230" stroke="#333" stroke-width="0.25"/>
<circle cx="257.3" cy="494.37" r="0.95" fill="#564230" stroke="#333" stroke-width="0.25"/>
<circle cx="306.8" cy="439.03" r="0.95" fill="#564230" stroke="#333" stroke-width="0.25"/>
<path d="M207.4,416.16 L257.3,481.69 L306.8,446.25" fill="none" stroke="#385a84" stroke-width="1"/>
<circle cx="207.4" cy="416.16" r="0.95" fill="#385a84" stroke="#333" stroke-width="0.25"/>
<circle cx="257.3" cy="481.69" r="0.95" fill="#385a84" stroke="#333" stroke-width="0.25"/>
<circle cx="306.8" cy="446.25" r="0.95" fill="#385a84" stroke="#333" stroke-width="0.25"/>
<line x1="328" y1="416.1" x2="337" y2="416.1" stroke="#9a90c2" stroke-width="1" />
<circle cx="332.5" cy="416.1" r="0.9" fill="#9a90c2"/>
<text x="339.9" y="418.9" font-size="7.8" text-anchor="start" fill="#222222" font-weight="normal" font-style="normal" stroke="#222222" stroke-width="0.24" >Pt 1</text>
<line x1="328" y1="427.35" x2="337" y2="427.35" stroke="#68b6d6" stroke-width="1" />
<circle cx="332.5" cy="427.35" r="0.9" fill="#68b6d6"/>
<text x="339.9" y="430.15" font-size="7.8" text-anchor="start" fill="#222222" font-weight="normal" font-style="normal" stroke="#222222" stroke-width="0.24" >Pt 2</text>
<line x1="328" y1="438.6" x2="337" y2="438.6" stroke="#385a84" stroke-width="1" />
<circle cx="332.5" cy="438.6" r="0.9" fill="#385a84"/>
<text x="339.9" y="441.4" font-size="7.8" text-anchor="start" fill="#222222" font-weight="normal" font-style="normal" stroke="#222222" stroke-width="0.24" >Pt 3</text>
<line x1="328" y1="449.85" x2="337" y2="449.85" stroke="#5ea864" stroke-width="1" />
<circle cx="332.5" cy="449.85" r="0.9" fill="#5ea864"/>
<text x="339.9" y="452.65" font-size="7.8" text-anchor="start" fill="#222222" font-weight="normal" font-style="normal" stroke="#222222" stroke-width="0.24" >Pt 4</text>
<line x1="328" y1="461.1" x2="337" y2="461.1" stroke="#564230" stroke-width="1" />
<circle cx="332.5" cy="461.1" r="0.9" fill="#564230"/>
<text x="339.9" y="463.9" font-size="7.8" text-anchor="start" fill="#222222" font-weight="normal" font-style="normal" stroke="#222222" stroke-width="0.24" >Pt 5</text>
<line x1="328" y1="472.35" x2="337" y2="472.35" stroke="#eeaa55" stroke-width="1" />
<circle cx="332.5" cy="472.35" r="0.9" fill="#eeaa55"/>
<text x="339.9" y="475.15" font-size="7.8" text-anchor="start" fill="#222222" font-weight="normal" font-style="normal" stroke="#222222" stroke-width="0.24" >Pt 6</text>
<line x1="328" y1="483.6" x2="337" y2="483.6" stroke="#d0d0cc" stroke-width="1" />
<circle cx="332.5" cy="483.6" r="0.9" fill="#d0d0cc"/>
<text x="339.9" y="486.4" font-size="7.8" text-anchor="start" fill="#222222" font-weight="normal" font-style="normal" stroke="#222222" stroke-width="0.24" >Pt 7</text>
<line x1="427.6" y1="389.3" x2="427.6" y2="511.2" stroke="#141414" stroke-width="1.25" />
<line x1="423.6" y1="510.6" x2="427.6" y2="510.6" stroke="#141414" stroke-width="1.3" />
<text x="420" y="513.35" font-size="7.8" text-anchor="end" fill="#222222" font-weight="normal" font-style="normal" stroke="#222222" stroke-width="0.24" >0</text>
<line x1="423.6" y1="486.9" x2="427.6" y2="486.9" stroke="#141414" stroke-width="1.3" />
<text x="420" y="489.65" font-size="7.8" text-anchor="end" fill="#222222" font-weight="normal" font-style="normal" stroke="#222222" stroke-width="0.24" >200</text>
<line x1="423.6" y1="463.2" x2="427.6" y2="463.2" stroke="#141414" stroke-width="1.3" />
<text x="420" y="465.95" font-size="7.8" text-anchor="end" fill="#222222" font-weight="normal" font-style="normal" stroke="#222222" stroke-width="0.24" >400</text>
<line x1="423.6" y1="439.5" x2="427.6" y2="439.5" stroke="#141414" stroke-width="1.3" />
<text x="420" y="442.25" font-size="7.8" text-anchor="end" fill="#222222" font-weight="normal" font-style="normal" stroke="#222222" stroke-width="0.24" >600</text>
<line x1="423.6" y1="415.8" x2="427.6" y2="415.8" stroke="#141414" stroke-width="1.3" />
<text x="420" y="418.55" font-size="7.8" text-anchor="end" fill="#222222" font-weight="normal" font-style="normal" stroke="#222222" stroke-width="0.24" >800</text>
<line x1="423.6" y1="392.1" x2="427.6" y2="392.1" stroke="#141414" stroke-width="1.3" />
<text x="420" y="394.85" font-size="7.8" text-anchor="end" fill="#222222" font-weight="normal" font-style="normal" stroke="#222222" stroke-width="0.24" >1000</text>
<line x1="424" y1="510.6" x2="510.5" y2="510.6" stroke="#141414" stroke-width="1.3" />
<line x1="427.6" y1="510.6" x2="427.6" y2="514" stroke="#141414" stroke-width="1.3" />
<text x="427.6" y="524.9" font-size="7.8" text-anchor="middle" fill="#222222" font-weight="normal" font-style="normal" stroke="#222222" stroke-width="0.24" >0</text>
<line x1="447.46" y1="510.6" x2="447.46" y2="514" stroke="#141414" stroke-width="1.3" />
<text x="447.46" y="524.9" font-size="7.8" text-anchor="middle" fill="#222222" font-weight="normal" font-style="normal" stroke="#222222" stroke-width="0.24" >20</text>
<line x1="467.32" y1="510.6" x2="467.32" y2="514" stroke="#141414" stroke-width="1.3" />
<text x="467.32" y="524.9" font-size="7.8" text-anchor="middle" fill="#222222" font-weight="normal" font-style="normal" stroke="#222222" stroke-width="0.24" >40</text>
<line x1="487.18" y1="510.6" x2="487.18" y2="514" stroke="#141414" stroke-width="1.3" />
<text x="487.18" y="524.9" font-size="7.8" text-anchor="middle" fill="#222222" font-weight="normal" font-style="normal" stroke="#222222" stroke-width="0.24" >60</text>
<line x1="507.04" y1="510.6" x2="507.04" y2="514" stroke="#141414" stroke-width="1.3" />
<text x="507.04" y="524.9" font-size="7.8" text-anchor="middle" fill="#222222" font-weight="normal" font-style="normal" stroke="#222222" stroke-width="0.24" >80</text>
<g transform="translate(469.3,539.2) scale(0.82,1)"><text x="0" y="0" font-size="9.3" text-anchor="middle" fill="#222222" stroke="#222222" stroke-width="0.42" xml:space="preserve">[Plasma 1,5-AG]  (µg/ml)</text></g>
<g transform="translate(392.6,448.7) rotate(-90) scale(0.78,1)"><text x="0" y="3.14" font-size="9.5" text-anchor="middle" fill="#222222" stroke="#222222" stroke-width="0.42" xml:space="preserve">Migrated cells without HS</text></g>
<line x1="427.7" y1="452.7" x2="499.8" y2="476.5" stroke="#3a3a3a" stroke-width="1.1" />
<circle cx="431.7" cy="400.5" r="1.05" fill="#1b2636"/>
<circle cx="442.3" cy="404.9" r="1.05" fill="#1b2636"/>
<circle cx="474" cy="416.4" r="1.05" fill="#1b2636"/>
<circle cx="432.8" cy="431.8" r="1.05" fill="#1b2636"/>
<circle cx="440.2" cy="436" r="1.05" fill="#1b2636"/>
<circle cx="438.1" cy="438.8" r="1.05" fill="#1b2636"/>
<circle cx="433.2" cy="446.6" r="1.05" fill="#1b2636"/>
<circle cx="433.8" cy="447.2" r="1.05" fill="#1b2636"/>
<circle cx="498.9" cy="448.7" r="1.05" fill="#1b2636"/>
<circle cx="428.4" cy="456.6" r="1.05" fill="#1b2636"/>
<circle cx="428.9" cy="469.6" r="1.05" fill="#1b2636"/>
<circle cx="440.4" cy="467.3" r="1.05" fill="#1b2636"/>
<circle cx="444.3" cy="472.8" r="1.05" fill="#1b2636"/>
<circle cx="431.9" cy="482" r="1.05" fill="#1b2636"/>
<circle cx="428.9" cy="494.7" r="1.05" fill="#1b2636"/>
<circle cx="437.4" cy="493.6" r="1.05" fill="#1b2636"/>
<circle cx="470.4" cy="488" r="1.05" fill="#1b2636"/>
<circle cx="470.4" cy="495.9" r="1.05" fill="#1b2636"/>
<circle cx="476.9" cy="500.5" r="1.05" fill="#1b2636"/>
<circle cx="483.1" cy="496.1" r="1.05" fill="#1b2636"/>
<text x="449" y="399.5" font-size="8.2" fill="#222222" stroke="#222222" stroke-width="0.24"><tspan font-style="italic">P</tspan> = .4290</text>
<line x1="64" y1="565.2" x2="64" y2="688.6" stroke="#141414" stroke-width="1.75" />
<line x1="60" y1="688" x2="64" y2="688" stroke="#141414" stroke-width="1.3" />
<text x="56.4" y="690.75" font-size="7.8" text-anchor="end" fill="#222222" font-weight="normal" font-style="normal" stroke="#222222" stroke-width="0.24" >0</text>
<line x1="60" y1="658.4" x2="64" y2="658.4" stroke="#141414" stroke-width="1.3" />
<text x="56.4" y="661.15" font-size="7.8" text-anchor="end" fill="#222222" font-weight="normal" font-style="normal" stroke="#222222" stroke-width="0.24" >2000</text>
<line x1="60" y1="628.8" x2="64" y2="628.8" stroke="#141414" stroke-width="1.3" />
<text x="56.4" y="631.55" font-size="7.8" text-anchor="end" fill="#222222" font-weight="normal" font-style="normal" stroke="#222222" stroke-width="0.24" >4000</text>
<line x1="60" y1="599.2" x2="64" y2="599.2" stroke="#141414" stroke-width="1.3" />
<text x="56.4" y="601.95" font-size="7.8" text-anchor="end" fill="#222222" font-weight="normal" font-style="normal" stroke="#222222" stroke-width="0.24" >6000</text>
<line x1="60" y1="569.6" x2="64" y2="569.6" stroke="#141414" stroke-width="1.3" />
<text x="56.4" y="572.35" font-size="7.8" text-anchor="end" fill="#222222" font-weight="normal" font-style="normal" stroke="#222222" stroke-width="0.24" >8000</text>
<line x1="60" y1="688" x2="123" y2="688" stroke="#141414" stroke-width="1.3" />
<line x1="72.9" y1="688" x2="72.9" y2="691.4" stroke="#141414" stroke-width="1.45" />
<line x1="86.5" y1="688" x2="86.5" y2="691.4" stroke="#141414" stroke-width="1.45" />
<line x1="100.2" y1="688" x2="100.2" y2="691.4" stroke="#141414" stroke-width="1.45" />
<line x1="113.9" y1="688" x2="113.9" y2="691.4" stroke="#141414" stroke-width="1.45" />
<text x="0" y="0" font-size="7.8" text-anchor="end" fill="#222222" stroke="#222222" stroke-width="0.24" transform="translate(76.5,699.5) rotate(-45)">Ctl</text>
<text x="0" y="0" font-size="7.8" text-anchor="end" fill="#222222" stroke="#222222" stroke-width="0.24" transform="translate(90.1,699.5) rotate(-45)">0</text>
<text x="0" y="0" font-size="7.8" text-anchor="end" fill="#222222" stroke="#222222" stroke-width="0.24" transform="translate(103.8,699.5) rotate(-45)">3 M</text>
<text x="0" y="0" font-size="7.8" text-anchor="end" fill="#222222" stroke="#222222" stroke-width="0.24" transform="translate(117.5,699.5) rotate(-45)">12 M</text>
<g transform="translate(28.2,626.8) rotate(-90) scale(0.78,1)"><text x="0" y="3.14" font-size="9.5" text-anchor="middle" fill="#222222" stroke="#222222" stroke-width="0.42" xml:space="preserve">Migrated cells with HS (cells)</text></g>
<line x1="72.9" y1="643.7" x2="72.9" y2="649.3" stroke="#505050" stroke-width="1" />
<line x1="70.9" y1="649.3" x2="74.9" y2="649.3" stroke="#111" stroke-width="1.4" />
<rect x="68.7" y="615.78" width="8.4" height="27.93" fill="url(#stripes)" stroke="#c20a2e" stroke-width="0.6"/>
<line x1="68.7" y1="632.71" x2="77.1" y2="632.71" stroke="#7a0018" stroke-width="1.2" />
<circle cx="69.9" cy="615.78" r="0.9" fill="#1a0a0a"/>
<circle cx="72.9" cy="615.78" r="0.9" fill="#1a0a0a"/>
<circle cx="75.9" cy="615.78" r="0.9" fill="#1a0a0a"/>
<circle cx="72.9" cy="624.36" r="0.9" fill="#1a0a0a"/>
<circle cx="72.9" cy="632.71" r="0.9" fill="#1a0a0a"/>
<circle cx="72.9" cy="637.68" r="0.9" fill="#1a0a0a"/>
<circle cx="72.9" cy="643.7" r="0.9" fill="#1a0a0a"/>
<circle cx="72.9" cy="649.3" r="0.9" fill="#1a0a0a"/>
<line x1="86.5" y1="631.01" x2="86.5" y2="648" stroke="#505050" stroke-width="1" />
<line x1="84.5" y1="631.01" x2="88.5" y2="631.01" stroke="#111" stroke-width="1.4" />
<rect x="82.3" y="648" width="8.4" height="23.4" fill="#cc0a2c" stroke="#c20a2e" stroke-width="0.6"/>
<line x1="82.3" y1="665.59" x2="90.7" y2="665.59" stroke="#7a0018" stroke-width="1.2" />
<circle cx="86.5" cy="631.01" r="0.9" fill="#1a0a0a"/>
<circle cx="86.5" cy="659.88" r="0.9" fill="#1a0a0a"/>
<circle cx="84.5" cy="665.59" r="0.9" fill="#1a0a0a"/>
<circle cx="88.5" cy="665.59" r="0.9" fill="#1a0a0a"/>
<circle cx="84.5" cy="671.39" r="0.9" fill="#1a0a0a"/>
<circle cx="88.5" cy="671.39" r="0.9" fill="#1a0a0a"/>
<line x1="100.2" y1="575.52" x2="100.2" y2="606.3" stroke="#505050" stroke-width="1" />
<line x1="98.2" y1="575.52" x2="102.2" y2="575.52" stroke="#111" stroke-width="1.4" />
<line x1="100.2" y1="645.7" x2="100.2" y2="651.5" stroke="#505050" stroke-width="1" />
<line x1="98.2" y1="651.5" x2="102.2" y2="651.5" stroke="#111" stroke-width="1.4" />
<rect x="96" y="606.3" width="8.4" height="39.4" fill="url(#stripes)" stroke="#c20a2e" stroke-width="0.6"/>
<line x1="96" y1="641.79" x2="104.4" y2="641.79" stroke="#7a0018" stroke-width="1.2" />
<circle cx="100.2" cy="575.52" r="0.9" fill="#1a0a0a"/>
<circle cx="100.2" cy="606.6" r="0.9" fill="#1a0a0a"/>
<circle cx="100.2" cy="639.16" r="0.9" fill="#1a0a0a"/>
<circle cx="98.2" cy="641.79" r="0.9" fill="#1a0a0a"/>
<circle cx="102.2" cy="641.79" r="0.9" fill="#1a0a0a"/>
<circle cx="100.2" cy="645.7" r="0.9" fill="#1a0a0a"/>
<circle cx="100.2" cy="651.5" r="0.9" fill="#1a0a0a"/>
<line x1="113.9" y1="575.52" x2="113.9" y2="613.7" stroke="#505050" stroke-width="1" />
<line x1="111.9" y1="575.52" x2="115.9" y2="575.52" stroke="#111" stroke-width="1.4" />
<line x1="113.9" y1="648.6" x2="113.9" y2="654.11" stroke="#505050" stroke-width="1" />
<line x1="111.9" y1="654.11" x2="115.9" y2="654.11" stroke="#111" stroke-width="1.4" />
<rect x="109.7" y="613.7" width="8.4" height="34.9" fill="url(#stripes)" stroke="#c20a2e" stroke-width="0.6"/>
<line x1="109.7" y1="635.99" x2="118.1" y2="635.99" stroke="#7a0018" stroke-width="1.2" />
<circle cx="113.9" cy="575.52" r="0.9" fill="#1a0a0a"/>
<circle cx="113.9" cy="625.84" r="0.9" fill="#1a0a0a"/>
<circle cx="111.9" cy="635.99" r="0.9" fill="#1a0a0a"/>
<circle cx="115.9" cy="635.99" r="0.9" fill="#1a0a0a"/>
<circle cx="113.9" cy="648.6" r="0.9" fill="#1a0a0a"/>
<circle cx="113.9" cy="654.11" r="0.9" fill="#1a0a0a"/>
<path d="M86,569.9 V567.3 H113.5 V569.9" fill="none" stroke="#3f74ad" stroke-width="1"/>
<text x="99.4" y="565.6" font-size="8.0" text-anchor="middle" fill="#3f74ad" font-weight="normal" font-style="italic" stroke="#3f74ad" stroke-width="0.24" >0.0293</text>
<path d="M72.3,608.9 V606.3 H85.7 V608.9" fill="none" stroke="#5a5a5a" stroke-width="1"/>
<text x="79.5" y="604.1" font-size="8.0" text-anchor="middle" fill="#5a5a5a" font-weight="normal" font-style="italic" stroke="#5a5a5a" stroke-width="0.24" >0.0345</text>
<line x1="197.5" y1="565.8" x2="197.5" y2="688.6" stroke="#141414" stroke-width="1.25" />
<line x1="193.5" y1="688" x2="197.5" y2="688" stroke="#141414" stroke-width="1.3" />
<text x="189.9" y="690.75" font-size="7.8" text-anchor="end" fill="#222222" font-weight="normal" font-style="normal" stroke="#222222" stroke-width="0.24" >0</text>
<line x1="193.5" y1="658.4" x2="197.5" y2="658.4" stroke="#141414" stroke-width="1.3" />
<text x="189.9" y="661.15" font-size="7.8" text-anchor="end" fill="#222222" font-weight="normal" font-style="normal" stroke="#222222" stroke-width="0.24" >2000</text>
<line x1="193.5" y1="628.8" x2="197.5" y2="628.8" stroke="#141414" stroke-width="1.3" />
<text x="189.9" y="631.55" font-size="7.8" text-anchor="end" fill="#222222" font-weight="normal" font-style="normal" stroke="#222222" stroke-width="0.24" >4000</text>
<line x1="193.5" y1="599.2" x2="197.5" y2="599.2" stroke="#141414" stroke-width="1.3" />
<text x="189.9" y="601.95" font-size="7.8" text-anchor="end" fill="#222222" font-weight="normal" font-style="normal" stroke="#222222" stroke-width="0.24" >6000</text>
<line x1="193.5" y1="569.6" x2="197.5" y2="569.6" stroke="#141414" stroke-width="1.3" />
<text x="189.9" y="572.35" font-size="7.8" text-anchor="end" fill="#222222" font-weight="normal" font-style="normal" stroke="#222222" stroke-width="0.24" >8000</text>
<line x1="194" y1="688" x2="316.5" y2="688" stroke="#141414" stroke-width="1.3" />
<line x1="207.4" y1="688" x2="207.4" y2="691.4" stroke="#141414" stroke-width="1.3" />
<line x1="257.3" y1="688" x2="257.3" y2="691.4" stroke="#141414" stroke-width="1.3" />
<line x1="306.8" y1="688" x2="306.8" y2="691.4" stroke="#141414" stroke-width="1.3" />
<text x="207.4" y="702.3" font-size="7.8" text-anchor="middle" fill="#222222" font-weight="normal" font-style="normal" stroke="#222222" stroke-width="0.24" >0</text>
<text x="257.3" y="702.3" font-size="7.8" text-anchor="middle" fill="#222222" font-weight="normal" font-style="normal" stroke="#222222" stroke-width="0.24" >3 M</text>
<text x="306.8" y="702.3" font-size="7.8" text-anchor="middle" fill="#222222" font-weight="normal" font-style="normal" stroke="#222222" stroke-width="0.24" >12 M</text>
<g transform="translate(162.7,626.8) rotate(-90) scale(0.78,1)"><text x="0" y="3.14" font-size="9.5" text-anchor="middle" fill="#222222" stroke="#222222" stroke-width="0.42" xml:space="preserve">Migrated cells with HS (cells)</text></g>
<path d="M207.4,656.18 L257.3,575.27" fill="none" stroke="#d0d0cc" stroke-width="1"/>
<circle cx="207.4" cy="656.18" r="0.95" fill="#d0d0cc" stroke="#333" stroke-width="0.25"/>
<circle cx="257.3" cy="575.27" r="0.95" fill="#d0d0cc" stroke="#333" stroke-width="0.25"/>
<path d="M207.4,670.71 L257.3,638.57 L306.8,625.43" fill="none" stroke="#9a90c2" stroke-width="1"/>
<circle cx="207.4" cy="670.71" r="0.95" fill="#9a90c2" stroke="#333" stroke-width="0.25"/>
<circle cx="257.3" cy="638.57" r="0.95" fill="#9a90c2" stroke="#333" stroke-width="0.25"/>
<circle cx="306.8" cy="625.43" r="0.95" fill="#9a90c2" stroke="#333" stroke-width="0.25"/>
<path d="M207.4,647.67 L257.3,651.89 L306.8,636.94" fill="none" stroke="#68b6d6" stroke-width="1"/>
<circle cx="207.4" cy="647.67" r="0.95" fill="#68b6d6" stroke="#333" stroke-width="0.25"/>
<circle cx="257.3" cy="651.89" r="0.95" fill="#68b6d6" stroke="#333" stroke-width="0.25"/>
<circle cx="306.8" cy="636.94" r="0.95" fill="#68b6d6" stroke="#333" stroke-width="0.25"/>
<path d="M207.4,660.38 L257.3,645.38 L306.8,654.11" fill="none" stroke="#5ea864" stroke-width="1"/>
<circle cx="207.4" cy="660.38" r="0.95" fill="#5ea864" stroke="#333" stroke-width="0.25"/>
<circle cx="257.3" cy="645.38" r="0.95" fill="#5ea864" stroke="#333" stroke-width="0.25"/>
<circle cx="306.8" cy="654.11" r="0.95" fill="#5ea864" stroke="#333" stroke-width="0.25"/>
<path d="M207.4,665.65 L257.3,647.3 L306.8,647.3" fill="none" stroke="#eeaa55" stroke-width="1"/>
<circle cx="207.4" cy="665.65" r="0.95" fill="#eeaa55" stroke="#333" stroke-width="0.25"/>
<circle cx="257.3" cy="647.3" r="0.95" fill="#eeaa55" stroke="#333" stroke-width="0.25"/>
<circle cx="306.8" cy="647.3" r="0.95" fill="#eeaa55" stroke="#333" stroke-width="0.25"/>
<path d="M207.4,670.71 L257.3,642.02 L306.8,635.55" fill="none" stroke="#564230" stroke-width="1"/>
<circle cx="207.4" cy="670.71" r="0.95" fill="#564230" stroke="#333" stroke-width="0.25"/>
<circle cx="257.3" cy="642.02" r="0.95" fill="#564230" stroke="#333" stroke-width="0.25"/>
<circle cx="306.8" cy="635.55" r="0.95" fill="#564230" stroke="#333" stroke-width="0.25"/>
<path d="M207.4,631.69 L257.3,605.86 L306.8,575.46" fill="none" stroke="#385a84" stroke-width="1"/>
<circle cx="207.4" cy="631.69" r="0.95" fill="#385a84" stroke="#333" stroke-width="0.25"/>
<circle cx="257.3" cy="605.86" r="0.95" fill="#385a84" stroke="#333" stroke-width="0.25"/>
<circle cx="306.8" cy="575.46" r="0.95" fill="#385a84" stroke="#333" stroke-width="0.25"/>
<line x1="328" y1="593.4" x2="337" y2="593.4" stroke="#9a90c2" stroke-width="1" />
<circle cx="332.5" cy="593.4" r="0.9" fill="#9a90c2"/>
<text x="339.9" y="596.2" font-size="7.8" text-anchor="start" fill="#222222" font-weight="normal" font-style="normal" stroke="#222222" stroke-width="0.24" >Pt 1</text>
<line x1="328" y1="604.55" x2="337" y2="604.55" stroke="#68b6d6" stroke-width="1" />
<circle cx="332.5" cy="604.55" r="0.9" fill="#68b6d6"/>
<text x="339.9" y="607.35" font-size="7.8" text-anchor="start" fill="#222222" font-weight="normal" font-style="normal" stroke="#222222" stroke-width="0.24" >Pt 2</text>
<line x1="328" y1="615.7" x2="337" y2="615.7" stroke="#385a84" stroke-width="1" />
<circle cx="332.5" cy="615.7" r="0.9" fill="#385a84"/>
<text x="339.9" y="618.5" font-size="7.8" text-anchor="start" fill="#222222" font-weight="normal" font-style="normal" stroke="#222222" stroke-width="0.24" >Pt 3</text>
<line x1="328" y1="626.85" x2="337" y2="626.85" stroke="#5ea864" stroke-width="1" />
<circle cx="332.5" cy="626.85" r="0.9" fill="#5ea864"/>
<text x="339.9" y="629.65" font-size="7.8" text-anchor="start" fill="#222222" font-weight="normal" font-style="normal" stroke="#222222" stroke-width="0.24" >Pt 4</text>
<line x1="328" y1="638" x2="337" y2="638" stroke="#564230" stroke-width="1" />
<circle cx="332.5" cy="638" r="0.9" fill="#564230"/>
<text x="339.9" y="640.8" font-size="7.8" text-anchor="start" fill="#222222" font-weight="normal" font-style="normal" stroke="#222222" stroke-width="0.24" >Pt 5</text>
<line x1="328" y1="649.15" x2="337" y2="649.15" stroke="#eeaa55" stroke-width="1" />
<circle cx="332.5" cy="649.15" r="0.9" fill="#eeaa55"/>
<text x="339.9" y="651.95" font-size="7.8" text-anchor="start" fill="#222222" font-weight="normal" font-style="normal" stroke="#222222" stroke-width="0.24" >Pt 6</text>
<line x1="328" y1="660.3" x2="337" y2="660.3" stroke="#d0d0cc" stroke-width="1" />
<circle cx="332.5" cy="660.3" r="0.9" fill="#d0d0cc"/>
<text x="339.9" y="663.1" font-size="7.8" text-anchor="start" fill="#222222" font-weight="normal" font-style="normal" stroke="#222222" stroke-width="0.24" >Pt 7</text>
<line x1="427.6" y1="565.1" x2="427.6" y2="688.6" stroke="#141414" stroke-width="1.25" />
<line x1="423.6" y1="688" x2="427.6" y2="688" stroke="#141414" stroke-width="1.3" />
<text x="420" y="690.75" font-size="7.8" text-anchor="end" fill="#222222" font-weight="normal" font-style="normal" stroke="#222222" stroke-width="0.24" >0</text>
<line x1="423.6" y1="658.4" x2="427.6" y2="658.4" stroke="#141414" stroke-width="1.3" />
<text x="420" y="661.15" font-size="7.8" text-anchor="end" fill="#222222" font-weight="normal" font-style="normal" stroke="#222222" stroke-width="0.24" >2000</text>
<line x1="423.6" y1="628.8" x2="427.6" y2="628.8" stroke="#141414" stroke-width="1.3" />
<text x="420" y="631.55" font-size="7.8" text-anchor="end" fill="#222222" font-weight="normal" font-style="normal" stroke="#222222" stroke-width="0.24" >4000</text>
<line x1="423.6" y1="599.2" x2="427.6" y2="599.2" stroke="#141414" stroke-width="1.3" />
<text x="420" y="601.95" font-size="7.8" text-anchor="end" fill="#222222" font-weight="normal" font-style="normal" stroke="#222222" stroke-width="0.24" >6000</text>
<line x1="423.6" y1="569.6" x2="427.6" y2="569.6" stroke="#141414" stroke-width="1.3" />
<text x="420" y="572.35" font-size="7.8" text-anchor="end" fill="#222222" font-weight="normal" font-style="normal" stroke="#222222" stroke-width="0.24" >8000</text>
<line x1="424" y1="688" x2="510.5" y2="688" stroke="#141414" stroke-width="1.3" />
<line x1="427.6" y1="688" x2="427.6" y2="691.4" stroke="#141414" stroke-width="1.3" />
<text x="427.6" y="702.3" font-size="7.8" text-anchor="middle" fill="#222222" font-weight="normal" font-style="normal" stroke="#222222" stroke-width="0.24" >0</text>
<line x1="447.46" y1="688" x2="447.46" y2="691.4" stroke="#141414" stroke-width="1.3" />
<text x="447.46" y="702.3" font-size="7.8" text-anchor="middle" fill="#222222" font-weight="normal" font-style="normal" stroke="#222222" stroke-width="0.24" >20</text>
<line x1="467.32" y1="688" x2="467.32" y2="691.4" stroke="#141414" stroke-width="1.3" />
<text x="467.32" y="702.3" font-size="7.8" text-anchor="middle" fill="#222222" font-weight="normal" font-style="normal" stroke="#222222" stroke-width="0.24" >40</text>
<line x1="487.18" y1="688" x2="487.18" y2="691.4" stroke="#141414" stroke-width="1.3" />
<text x="487.18" y="702.3" font-size="7.8" text-anchor="middle" fill="#222222" font-weight="normal" font-style="normal" stroke="#222222" stroke-width="0.24" >60</text>
<line x1="507.04" y1="688" x2="507.04" y2="691.4" stroke="#141414" stroke-width="1.3" />
<text x="507.04" y="702.3" font-size="7.8" text-anchor="middle" fill="#222222" font-weight="normal" font-style="normal" stroke="#222222" stroke-width="0.24" >80</text>
<g transform="translate(469.3,716.5) scale(0.82,1)"><text x="0" y="0" font-size="9.3" text-anchor="middle" fill="#222222" stroke="#222222" stroke-width="0.42" xml:space="preserve">[Plasma 1,5-AG]  (µg/ml)</text></g>
<g transform="translate(392.6,625.8) rotate(-90) scale(0.78,1)"><text x="0" y="3.14" font-size="9.5" text-anchor="middle" fill="#222222" stroke="#222222" stroke-width="0.42" xml:space="preserve">Migrated cells with  10% HS</text></g>
<line x1="427.7" y1="628" x2="499.8" y2="669.7" stroke="#3a3a3a" stroke-width="1.1" />
<circle cx="432.8" cy="574.7" r="1.05" fill="#1b2636"/>
<circle cx="442.3" cy="574.7" r="1.05" fill="#1b2636"/>
<circle cx="431.7" cy="605.1" r="1.05" fill="#1b2636"/>
<circle cx="432.3" cy="625.1" r="1.05" fill="#1b2636"/>
<circle cx="474.4" cy="631.1" r="1.05" fill="#1b2636"/>
<circle cx="438.8" cy="635" r="1.05" fill="#1b2636"/>
<circle cx="440.4" cy="637.3" r="1.05" fill="#1b2636"/>
<circle cx="428.4" cy="641.9" r="1.05" fill="#1b2636"/>
<circle cx="428.9" cy="644.9" r="1.05" fill="#1b2636"/>
<circle cx="432.3" cy="647.3" r="1.05" fill="#1b2636"/>
<circle cx="434.2" cy="646.6" r="1.05" fill="#1b2636"/>
<circle cx="470.4" cy="647.7" r="1.05" fill="#1b2636"/>
<circle cx="437" cy="651.2" r="1.05" fill="#1b2636"/>
<circle cx="428.9" cy="654.2" r="1.05" fill="#1b2636"/>
<circle cx="444.3" cy="659.7" r="1.05" fill="#1b2636"/>
<circle cx="470.4" cy="665" r="1.05" fill="#1b2636"/>
<circle cx="483.6" cy="665.7" r="1.05" fill="#1b2636"/>
<circle cx="476.9" cy="669.7" r="1.05" fill="#1b2636"/>
<circle cx="499.3" cy="670.3" r="1.05" fill="#1b2636"/>
<text x="449" y="579.7" font-size="8.2" fill="#222222" stroke="#222222" stroke-width="0.24"><tspan font-style="italic">P</tspan> = .0457</text>
</svg>
</body></html>
